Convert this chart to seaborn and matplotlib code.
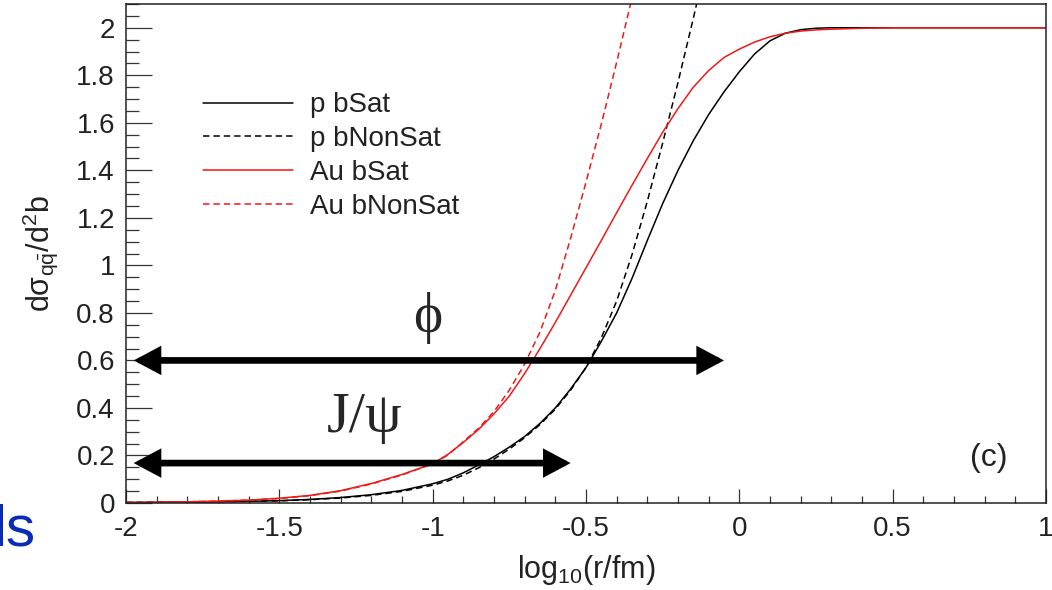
import seaborn as sns
import matplotlib.pyplot as plt
from matplotlib.ticker import MultipleLocator, FixedLocator, FixedFormatter

# log10(r/fm) grid
x_sat = [-2.0, -1.9, -1.8, -1.7, -1.6, -1.5, -1.4, -1.3, -1.2, -1.1, -1.0,
         -0.95, -0.9, -0.85, -0.8, -0.75, -0.7, -0.65, -0.6, -0.55, -0.5,
         -0.45, -0.4, -0.35, -0.3, -0.25, -0.2, -0.15, -0.1, -0.05, 0.0,
         0.05, 0.1, 0.15, 0.2, 0.25, 0.3, 0.4, 0.5, 0.6, 0.7, 0.8, 0.9, 1.0]
p_bsat = [0.002, 0.003, 0.004, 0.005, 0.007, 0.010, 0.015, 0.023, 0.035, 0.053, 0.081,
          0.100, 0.127, 0.160, 0.195, 0.235, 0.280, 0.335, 0.400, 0.480, 0.570,
          0.680, 0.800, 0.945, 1.105, 1.260, 1.400, 1.525, 1.635, 1.730, 1.815,
          1.890, 1.945, 1.977, 1.992, 1.998, 2.0, 2.0, 2.0, 2.0, 2.0, 2.0, 2.0, 2.0]
au_bsat = [0.002, 0.003, 0.005, 0.008, 0.012, 0.020, 0.032, 0.052, 0.082, 0.120, 0.165,
           0.205, 0.255, 0.310, 0.375, 0.450, 0.545, 0.650, 0.760, 0.875, 0.990,
           1.105, 1.222, 1.337, 1.450, 1.560, 1.660, 1.750, 1.820, 1.875, 1.910,
           1.940, 1.962, 1.977, 1.986, 1.991, 1.994, 1.998, 2.0, 2.0, 2.0, 2.0, 2.0, 2.0]

x_nonsat = [-2.0, -1.9, -1.8, -1.7, -1.6, -1.5, -1.4, -1.3, -1.2, -1.1, -1.0,
            -0.95, -0.9, -0.85, -0.8, -0.75, -0.7, -0.65, -0.6, -0.55, -0.5,
            -0.45, -0.4, -0.35, -0.3, -0.25, -0.2, -0.15, -0.1]
p_bnonsat = [0.002, 0.003, 0.004, 0.005, 0.007, 0.009, 0.014, 0.021, 0.032, 0.049, 0.075,
             0.093, 0.117, 0.148, 0.185, 0.227, 0.275, 0.330, 0.395, 0.475, 0.570,
             0.695, 0.850, 1.045, 1.270, 1.515, 1.770, 2.040, 2.320]
au_bnonsat = [0.002, 0.003, 0.005, 0.008, 0.012, 0.019, 0.031, 0.050, 0.080, 0.118, 0.165,
              0.202, 0.258, 0.315, 0.385, 0.475, 0.585, 0.720, 0.895, 1.115, 1.350,
              1.595, 1.855, 2.125, 2.410, 2.700, 3.000, 3.300, 3.600]

labels = ['p bSat', 'p bNonSat', 'Au bSat', 'Au bNonSat']

# arrows (x from, x to, y)
phi_arrow = [-1.975, -0.05, 0.6]
jpsi_arrow = [-1.975, -0.55, 0.168]

x_ticks = [-2, -1.5, -1, -0.5, 0, 0.5, 1]
x_ticklabels = ['-2', '-1.5', '-1', '-0.5', '0', '0.5', '1']
y_ticks = [0, 0.2, 0.4, 0.6, 0.8, 1.0, 1.2, 1.4, 1.6, 1.8, 2.0]
y_ticklabels = ['0', '0.2', '0.4', '0.6', '0.8', '1', '1.2', '1.4', '1.6', '1.8', '2']

sns.set_theme(style='ticks')
plt.rcParams['font.family'] = ['Liberation Sans', 'DejaVu Sans']
plt.rcParams['mathtext.fontset'] = 'custom'
plt.rcParams['mathtext.rm'] = 'Liberation Sans'
plt.rcParams['mathtext.it'] = 'Liberation Sans'
plt.rcParams['axes.unicode_minus'] = False

fig = plt.figure(figsize=(10.52, 5.9), dpi=100)
ax = fig.add_axes([126 / 1052, 1 - 503 / 590, 920 / 1052, 499 / 590])

red = '#f01818'
dash = (0, (4.2, 2.6))
sns.lineplot(x=x_sat, y=p_bsat, color='black', lw=1.1, ax=ax, label=labels[0])
sns.lineplot(x=x_nonsat, y=p_bnonsat, color='black', lw=1.1, linestyle=dash, ax=ax, label=labels[1])
sns.lineplot(x=x_sat, y=au_bsat, color=red, lw=1.1, ax=ax, label=labels[2])
sns.lineplot(x=x_nonsat, y=au_bnonsat, color=red, lw=1.1, linestyle=dash, ax=ax, label=labels[3])

for a in (phi_arrow, jpsi_arrow):
    ax.annotate('', xy=(a[1], a[2]), xytext=(a[0], a[2]),
                arrowprops=dict(arrowstyle='<|-|>,head_length=0.62,head_width=0.33',
                                lw=4.8, color='black', mutation_scale=20,
                                shrinkA=0, shrinkB=0, joinstyle='miter'))

serif = ['Liberation Serif', 'DejaVu Serif']
ax.text(-1.017, 0.72, '\u03d5', family=serif, fontsize=40, ha='center', va='baseline')
ax.text(-1.221, 0.30, 'J/\u03c8', family=serif, fontsize=42, ha='center', va='baseline')
ax.text(0.938, 0.09, '(c)', transform=ax.transAxes, fontsize=23, ha='center', va='center', color='#222222')

ax.set_xlim(-2, 1)
ax.set_ylim(0, 2.1)
ax.xaxis.set_major_locator(FixedLocator(x_ticks))
ax.xaxis.set_major_formatter(FixedFormatter(x_ticklabels))
ax.yaxis.set_major_locator(FixedLocator(y_ticks))
ax.yaxis.set_major_formatter(FixedFormatter(y_ticklabels))
ax.xaxis.set_minor_locator(MultipleLocator(0.1))
ax.yaxis.set_minor_locator(MultipleLocator(0.05))
ax.tick_params(axis='both', which='both', direction='in', colors='#333333',
               labelcolor='#222222', labelsize=20, width=0.9,
               left=True, bottom=True, right=False, top=False)
ax.tick_params(axis='y', which='major', length=19, pad=8)
ax.tick_params(axis='y', which='minor', length=9.5)
ax.tick_params(axis='x', which='major', length=10, pad=9)
ax.tick_params(axis='x', which='minor', length=5)
for s in ax.spines.values():
    s.set_visible(True)
    s.set_color('#222222')
    s.set_linewidth(1.1)

ax.set_xlabel(r'log$_{10}$(r/fm)', fontsize=22, color='#222222', labelpad=8)
ax.set_ylabel('d\u03c3$_{\\mathrm{q\\bar{q}}}$/d$^{2}$b', fontsize=22, color='#222222')
ax.yaxis.set_label_coords(-0.072, 0.5)

ax.legend(loc='upper left', bbox_to_anchor=(0.0837, 0.823), frameon=False, fontsize=20,
          handlelength=3.25, handletextpad=0.6, labelspacing=0.28,
          borderpad=0, borderaxespad=0, labelcolor='#222222')

fig.text(35 / 1052, 1 - 545 / 590, 'ls', color='#0a2bb8', fontsize=42, ha='right', va='baseline')

plt.savefig('out.png', dpi=100)
